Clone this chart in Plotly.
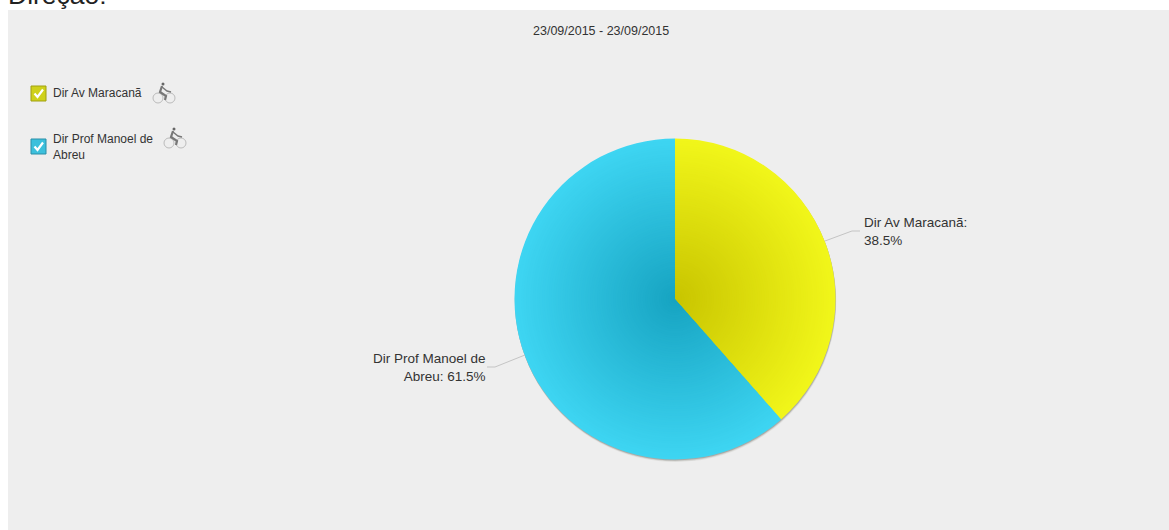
import plotly.graph_objects as go

W, H = 1169, 530
labels = ["Dir Av Maracanã", "Dir Prof Manoel de Abreu"]
values = [38.5, 61.5]
date_title = "23/09/2015 - 23/09/2015"
page_title = "Direção:"
label_texts = ["Dir Av Maracanã:<br>38.5%", "Dir Prof Manoel de<br>Abreu: 61.5%"]
legend_texts = ["Dir Av Maracanã", "Dir Prof Manoel de<br>Abreu"]

CX, CY, R = 675, 299, 160.5
inner = [(200, 196, 0), (22, 163, 193)]
outer = [(241, 246, 26), (62, 213, 242)]
FONT = "Liberation Sans"
TXT = "#333333"


def px(x):
    return x / W


def py(y):
    return 1 - y / H


def mix(a, b, t):
    return "rgb(%d,%d,%d)" % tuple(round(p + (q - p) * t) for p, q in zip(a, b))


def disc(r, colors, dx=0.0, dy=0.0):
    return go.Pie(
        labels=labels, values=values, sort=False, direction="clockwise", rotation=0,
        textinfo="none", hoverinfo="skip", showlegend=False,
        marker=dict(colors=colors, line=dict(width=0)),
        domain=dict(x=[px(CX + dx - r), px(CX + dx + r)],
                    y=[py(CY + dy + r), py(CY + dy - r)]),
    )


fig = go.Figure()
for off, col in ((2.5, "#e2e2e0"), (1.8, "#cfcfcc"), (1.0, "#aaaaa6")):
    fig.add_trace(disc(R, [col, col], off * 0.3, off))
steps = 70
for i in range(steps):
    k = 1 - i / steps
    fig.add_trace(disc(R * k, [mix(inner[0], outer[0], k), mix(inner[1], outer[1], k)]))

shapes = [
    dict(type="rect", xref="paper", yref="paper", x0=px(8), x1=1, y0=0, y1=py(10),
         fillcolor="#eeeeee", line_width=0, layer="below"),
    dict(type="path", xref="paper", yref="paper",
         path="M %f,%f L %f,%f L %f,%f" % (px(825), py(241), px(852), py(231), px(860), py(231)),
         line=dict(color="#c4c4c4", width=1)),
    dict(type="path", xref="paper", yref="paper",
         path="M %f,%f L %f,%f L %f,%f" % (px(525), py(355), px(495), py(367), px(487), py(367)),
         line=dict(color="#c4c4c4", width=1)),
]


def path(points):
    return "M " + " L ".join(f"{px(x):.5f},{py(y):.5f}" for x, y in points)


def checkbox(x, y, border, fill):
    s = 15
    shapes.append(dict(type="rect", xref="paper", yref="paper", x0=px(x), x1=px(x + s),
                       y0=py(y + s), y1=py(y), fillcolor=fill, line=dict(color=border, width=1)))
    shapes.append(dict(type="path", xref="paper", yref="paper",
                       path=path([(x + 3.5, y + 7.5), (x + 6.5, y + 11), (x + 12, y + 3.5)]),
                       line=dict(color="#ffffff", width=2.2)))


def bike(x, y):
    c = "#777777"
    for wx in (x + 5, x + 17):
        shapes.append(dict(type="circle", xref="paper", yref="paper", x0=px(wx - 5), x1=px(wx + 5),
                           y0=py(y + 21), y1=py(y + 11), line=dict(color="#bbbbbb", width=1)))
    shapes.append(dict(type="circle", xref="paper", yref="paper", x0=px(x + 8.5), x1=px(x + 11.5),
                       y0=py(y + 3.5), y1=py(y + 0.5), fillcolor="#666666", line_width=0))
    shapes.append(dict(type="path", xref="paper", yref="paper",
                       path=path([(x + 9, y + 4), (x + 7, y + 10), (x + 13, y + 14), (x + 12, y + 18)]),
                       line=dict(color=c, width=2.2)))
    shapes.append(dict(type="path", xref="paper", yref="paper",
                       path=path([(x + 9, y + 5), (x + 14, y + 9), (x + 18, y + 10)]),
                       line=dict(color=c, width=1.4)))


checkbox(31, 86, "#a0a010", "#cfd11a")
checkbox(31, 139, "#2a8fa8", "#3cc0dc")
bike(153, 82)
bike(164, 127)


def note(x, y, text, size=12, xanchor="left", yanchor="middle", align="left", color=TXT):
    return dict(x=px(x), y=py(y), xref="paper", yref="paper", text=text, showarrow=False,
                xanchor=xanchor, yanchor=yanchor, align=align, xshift=0, yshift=0,
                borderpad=0, borderwidth=0, font=dict(family=FONT, size=size, color=color))


annotations = [
    note(8, 10, page_title, size=26.5, yanchor="bottom", color="#222222"),
    note(601, 31, date_title, size=12.5, xanchor="center"),
    note(864, 231, label_texts[0], size=13.5),
    note(486, 367, label_texts[1], size=13.5, xanchor="right", align="right"),
    note(53, 93, legend_texts[0], size=12),
    note(53, 147, legend_texts[1], size=12),
]

fig.update_layout(
    width=W, height=H, margin=dict(l=0, r=0, t=0, b=0), autosize=False,
    paper_bgcolor="#ffffff", plot_bgcolor="#eeeeee",
    shapes=shapes, annotations=annotations, showlegend=False,
)
fig.write_html("out.html", config={"displayModeBar": False},
               post_script="document.body.style.margin='0';document.body.style.overflow='hidden';")
